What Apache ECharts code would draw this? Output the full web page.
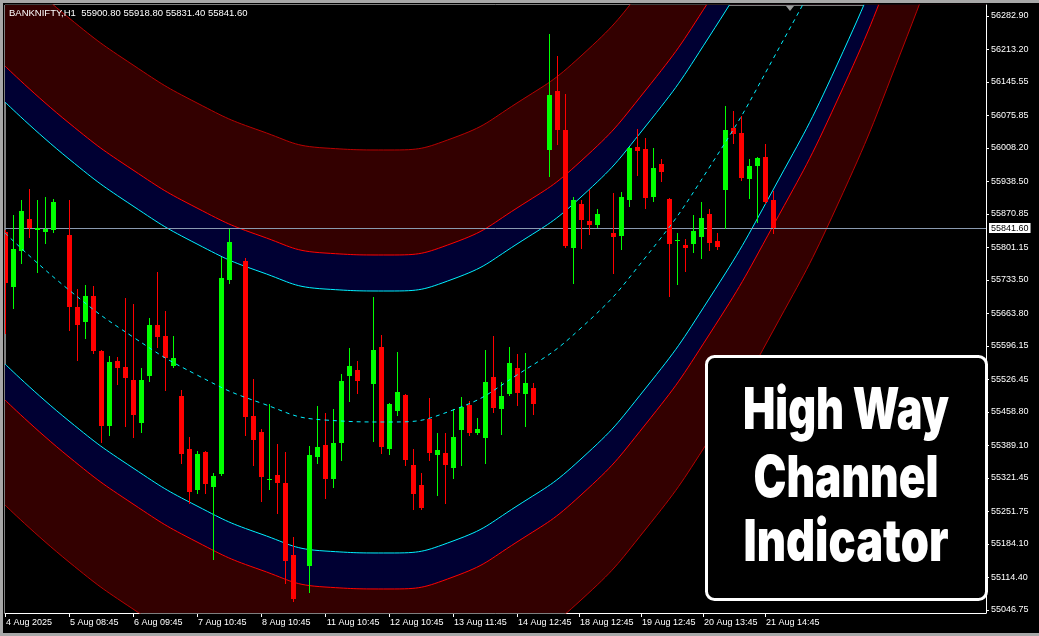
<!DOCTYPE html>
<html><head><meta charset="utf-8">
<script src="https://cdn.jsdelivr.net/npm/echarts@6/dist/echarts.min.js"></script>
<style>html,body{margin:0;padding:0;background:#000;}#c{width:1039px;height:636px;}</style>
</head><body><div id="c"></div>
<script>
// ---------- data ----------
const symbolName = 'BANKNIFTY,H1';
const lastOHLC = [55900.80, 55918.80, 55831.40, 55841.60];

// candle values per bar (null = no bar drawn)
const open  = [55833.4,55718.9,55793.8,55860.4,55837.6,55833.4,55837.6,null,55827.1,55677.3,55646.1,55700.2,55585.7,55429.7,55564.9,55552.4,55525.4,55435.9,55533.7,55639.8,55617.0,55554.5,55492.1,55381.8,55296.5,55375.5,55302.7,55329.8,55733.5,null,55773.0,55450.5,55417.2,55317.3,55327.7,55311.0,55161.2,null,55138.3,55365.1,55390.1,55319.4,55394.3,55533.7,55546.2,null,55517.1,55594.1,55381.8,55460.9,55494.2,55348.5,55306.9,55444.2,55369.3,55373.5,55342.2,55421.3,55473.4,55415.1,55404.7,55531.6,55465.0,55496.2,55550.4,55496.2,55508.7,null,56004.0,56126.8,56045.7,55800.1,55891.7,55856.3,55848.0,null,55831.3,55825.1,55900.0,56010.3,56006.1,55906.2,55974.9,55902.1,55814.7,55806.3,55808.4,55823.0,55870.8,55814.7,55920.8,56049.8,56039.4,55943.7,55970.7,55989.5,55900.8];
const close = [55727.3,55798.0,55877.1,55841.7,55841.7,55839.6,55895.8,null,55677.3,55639.8,55700.2,55585.7,55429.7,55562.8,55550.4,55529.5,55452.5,55525.4,55639.8,55614.9,55571.2,55571.2,55371.4,55292.3,55371.4,55308.9,55325.6,55737.7,55812.6,null,55448.4,55400.5,55323.5,55319.4,55311.0,55148.7,55069.6,null,55369.3,55385.9,55319.4,55394.3,55523.3,55554.5,55523.3,null,55587.8,55385.9,55475.4,55500.4,55358.9,55288.1,55259.0,55373.5,55379.7,55348.5,55406.8,55469.2,55415.1,55423.4,55521.2,55467.1,55492.1,55560.8,55498.3,55519.1,55475.4,null,56118.5,56045.7,55804.2,55900.0,55858.4,55848.0,55870.8,null,55823.0,55906.2,56008.2,56002.0,55904.1,55966.6,55958.3,55808.4,55816.7,55800.1,55835.5,55862.5,55810.5,55802.2,56045.7,56037.3,55945.8,55970.7,55987.4,55895.8,55841.6];
const low   = [55623.2,55675.2,55768.9,55823.0,55750.1,55810.5,55833.4,null,55629.4,55567.0,55612.8,55581.6,55396.4,55410.9,55517.1,55429.7,55406.8,55417.2,55523.3,55594.1,55504.6,55552.0,55352.7,55269.4,55290.2,55290.2,55152.9,55327.0,55727.3,null,55410.9,55348.5,55273.6,55298.5,55248.6,55102.9,55066.0,null,55084.2,55352.7,55279.8,55302.7,55358.9,55481.7,55498.3,null,55398.4,55373.5,55371.4,55452.5,55348.5,55256.9,55256.0,55358.9,55286.1,55269.4,55321.4,55348.5,55410.9,55413.0,55352.7,55458.8,55413.0,55494.0,55473.4,55429.7,55454.6,null,55949.9,56016.5,55802.0,55727.3,55800.1,55829.2,55843.8,null,55748.1,55798.0,55887.5,55952.0,55883.3,55897.9,55939.5,55700.2,55725.2,55752.2,55791.8,55779.3,55795.9,55798.0,55841.7,56018.6,55941.6,55904.1,55854.2,55893.0,55831.4];
const high  = [55837.6,55868.8,55900.0,55922.9,55900.0,55906.2,55902.1,null,55900.0,55714.8,55723.1,55721.0,55588.0,55575.3,55573.2,55696.0,55683.5,55550.4,55654.4,55750.1,55669.0,55617.0,55504.6,55406.8,55377.6,55377.6,55331.8,55781.4,55839.6,null,55779.3,55527.5,55423.4,55475.4,55392.2,55375.5,55198.6,null,55388.0,55471.3,55456.7,55465.0,55537.9,55592.0,55564.9,null,55698.1,55619.0,55477.5,55583.7,55496.0,55381.8,55331.8,55487.9,55415.1,55415.1,55465.0,55490.0,55481.7,55446.3,55587.8,55617.0,55521.2,55594.1,55579.5,55581.6,55519.1,null,56245.4,56199.7,56120.6,55906.2,55900.0,55920.8,55881.2,null,55914.5,55916.6,56010.0,56047.7,56029.0,56008.2,55985.3,55904.0,55831.3,55818.8,55868.8,55895.8,55881.2,55831.3,56095.6,56085.2,56074.8,55985.3,55989.0,56016.5,55918.8];

// channel curves, sampled at these bar positions
const curveIdx   = [0,8,16,24,32,40,48,56,64,72,80,88,96,104,112,120,122.625];
const center     = [55831.3,55712.7,55614.9,55535.8,55477.5,55442.1,55438.0,55462.9,55535.8,55633.6,55779.3,55966.6,56193.4,56453.6,56774.0,57138.2,57273.5];
const upperCyan  = [56103.9,55985.3,55887.5,55808.4,55750.1,55714.7,55710.6,55735.5,55808.4,55906.2,56051.9,56239.2,56466.0,56726.2,57046.6,57410.8,57546.1];
const upperRed   = [56178.8,56060.2,55962.4,55883.3,55825.0,55789.6,55785.5,55810.4,55883.3,55981.1,56126.8,56314.1,56540.9,56801.1,57121.5,57485.7,57621.0];
const upperOuter = [56397.4,56278.8,56181.0,56101.9,56043.6,56008.2,56004.1,56029.0,56101.9,56199.7,56345.4,56532.7,56759.5,57019.7,57340.1,57704.3,57839.6];
const lowerCyan  = [55558.7,55440.1,55342.3,55263.2,55204.9,55169.5,55165.4,55190.3,55263.2,55361.0,55506.7,55694.0,55920.8,56181.0,56501.4,56865.6,57000.9];
const lowerRed   = [55483.8,55365.2,55267.4,55188.3,55130.0,55094.6,55090.5,55115.4,55188.3,55286.1,55431.8,55619.1,55845.9,56106.1,56426.5,56790.7,56926.0];
const lowerOuter = [55265.2,55146.6,55048.8,54969.7,54911.4,54876.0,54871.9,54896.8,54969.7,55067.5,55213.2,55400.5,55627.3,55887.5,56207.9,56572.1,56707.4];

// axes
const yTicks = [56282.90,56213.20,56145.55,56075.85,56008.20,55938.50,55870.85,55801.15,55733.50,55663.80,55596.15,55526.45,55458.80,55389.10,55321.45,55251.75,55184.10,55114.40,55046.75];
const xTickPos = [0,8,16,24,32,40.08,48,56,64,71.75,79.5,87.25,95];
const xTickLabels = ['4 Aug 2025','5 Aug 08:45','6 Aug 09:45','7 Aug 10:45','8 Aug 10:45','11 Aug 10:45','12 Aug 10:45','13 Aug 11:45','14 Aug 12:45','18 Aug 12:45','19 Aug 12:45','20 Aug 13:45','21 Aug 14:45'];
const boxLines = ['High Way','Channel','Indicator'];

// ---------- build ----------
const candleData = [];
for (let i = 0; i < open.length; i++) {
  if (open[i] === null) continue;
  candleData.push([i, open[i], close[i], low[i], high[i]]);
}
const pair = arr => curveIdx.map((x, k) => [x, arr[k]]);

const FONT = 'Liberation Sans, Arial, sans-serif';
const CYAN = '#00f0ff';

function band(name, arr, lineColor, fill, origin, z) {
  return {
    name, type: 'line', data: pair(arr), smooth: true, symbol: 'none', z,
    lineStyle: { color: lineColor, width: 1 },
    areaStyle: { color: fill, opacity: 1, origin },
    silent: true, clip: true
  };
}

const chart = echarts.init(document.getElementById('c'), null, { renderer: 'canvas' });

const mctx = document.createElement('canvas').getContext('2d');
const boxFont = '900 58px Inter';
function fitScale(text, target) { mctx.font = boxFont; return target / mctx.measureText(text).width; }
const boxTargets = [206, 185, 205];
const boxY = [412, 480, 544];

function nearestLabel(v) {
  let best = 0;
  for (let k = 1; k < xTickPos.length; k++) if (Math.abs(xTickPos[k] - v) < Math.abs(xTickPos[best] - v)) best = k;
  return xTickLabels[best];
}

const option = {
  backgroundColor: '#000',
  animation: false,
  grid: { left: 5, top: 5, right: 53, bottom: 23, show: true, borderColor: '#fff', borderWidth: 1, backgroundColor: '#000', containLabel: false, outerBoundsMode: 'none' },
  xAxis: {
    type: 'value', min: 0, max: 122.625, position: 'bottom',
    axisLine: { show: true, onZero: false, lineStyle: { color: '#fff', width: 1 } },
    axisTick: { show: true, customValues: xTickPos, length: 4, lineStyle: { color: '#fff' } },
    axisLabel: { show: true, customValues: xTickPos, formatter: v => nearestLabel(v), align: 'left', color: '#fff', fontSize: 9, fontFamily: FONT, margin: 5, padding: [0,0,0,1] },
    splitLine: { show: false }
  },
  yAxis: {
    type: 'value', min: 55040.5, max: 56305.8, position: 'right', scale: true,
    axisLine: { show: true, onZero: false, lineStyle: { color: '#fff', width: 1 } },
    axisTick: { show: true, customValues: yTicks, length: 3, lineStyle: { color: '#fff' } },
    axisLabel: { show: true, customValues: yTicks, formatter: v => v.toFixed(2), color: '#fff', fontSize: 9, fontFamily: FONT, margin: 5 },
    splitLine: { show: false }
  },
  series: [
    band('upperCyan', upperCyan, CYAN, '#000033', 'end', 1),
    band('upperRed', upperRed, '#ff0000', '#330000', 'end', 2),
    band('upperOuter', upperOuter, '#b80000', '#000000', 'end', 3),
    band('lowerCyan', lowerCyan, CYAN, '#000033', 'start', 1),
    band('lowerRed', lowerRed, '#ff0000', '#330000', 'start', 2),
    band('lowerOuter', lowerOuter, '#b80000', '#000000', 'start', 3),
    {
      name: 'candles', type: 'custom', z: 5, clip: true, silent: true,
      data: candleData,
      encode: { x: 0, y: [1, 2, 3, 4] },
      renderItem: function (params, api) {
        const i = api.value(0), o = api.value(1), c = api.value(2), l = api.value(3), h = api.value(4);
        const pO = api.coord([i, o]), pC = api.coord([i, c]);
        const pL = api.coord([i, l]), pH = api.coord([i, h]);
        const x = Math.round(pO[0]);
        const col = c >= o ? '#00ff00' : '#ff0000';
        const top = Math.round(Math.min(pO[1], pC[1]));
        const bot = Math.round(Math.max(pO[1], pC[1]));
        return {
          type: 'group', children: [
            { type: 'line', shape: { x1: x + 0.5, y1: Math.round(pH[1]), x2: x + 0.5, y2: Math.round(pL[1]) + 1 }, style: { stroke: col, lineWidth: 1 } },
            { type: 'rect', shape: { x: x - 2, y: top, width: 5, height: Math.max(1, bot - top) }, style: { fill: col } }
          ]
        };
      }
    },
    {
      name: 'center', type: 'line', data: pair(center), smooth: true, symbol: 'none', z: 6, silent: true,
      lineStyle: { color: CYAN, width: 1, type: [4, 4] },
      markLine: {
        silent: true, symbol: ['none', 'none'], animation: false,
        data: [{ yAxis: lastOHLC[3] }],
        lineStyle: { color: '#8a9ab0', width: 1, type: 'solid' },
        label: { show: true, position: 'end', distance: 3, formatter: lastOHLC[3].toFixed(2), color: '#000', backgroundColor: '#fff', padding: [1, 2, 0, 2], fontSize: 9, fontFamily: FONT }
      }
    }
  ],
  graphic: [
    { type: 'rect', z: 100, shape: { x: 0, y: 0, width: 1039, height: 3 }, style: { fill: '#a8a8a8' } },
    { type: 'rect', z: 100, shape: { x: 0, y: 0, width: 3, height: 636 }, style: { fill: '#a8a8a8' } },
    { type: 'rect', z: 100, shape: { x: 0, y: 633, width: 1039, height: 3 }, style: { fill: '#a8a8a8' } },
    { type: 'text', z: 100, x: 9, y: 13, style: { text: symbolName + '  ' + lastOHLC.map(v => v.toFixed(2)).join(' '), fill: '#fff', font: '9.5px ' + FONT, verticalAlign: 'middle' } },
    { type: 'polygon', z: 100, shape: { points: [[786, 6], [794, 6], [790, 11]] }, style: { fill: '#9a9a9a' } },
    { type: 'rect', z: 100, shape: { x: 706.5, y: 356.5, width: 280, height: 243, r: 8 }, style: { fill: '#000', stroke: '#fff', lineWidth: 3 } },
    ...boxLines.map((t, k) => ({
      type: 'text', z: 101, x: 846, y: boxY[k], scaleX: fitScale(t, boxTargets[k]),
      style: { text: t, fill: '#fff', font: boxFont, align: 'center', verticalAlign: 'middle' }
    }))
  ]
};
chart.setOption(option);
</script>
</body></html>
